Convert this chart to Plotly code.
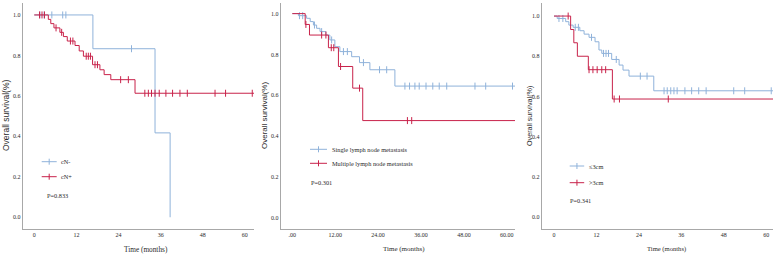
import plotly.graph_objects as go
import bisect

# ---------------- data ----------------
x_ticks = [0, 12, 24, 36, 48, 60]
x_ticklabels_a = ["0", "12", "24", "36", "48", "60"]
x_ticklabels_b = [".00", "12.00", "24.00", "36.00", "48.00", "60.00"]
y_ticks = [0.0, 0.2, 0.4, 0.6, 0.8, 1.0]
y_ticklabels = ["0.0", "0.2", "0.4", "0.6", "0.8", "1.0"]

# Panel 1: cN- / cN+
p1_neg_t = [0, 16.7, 34.4, 38.7]
p1_neg_s = [1.0, 0.833, 0.417, 0.0]
p1_neg_cens = [1.6, 2.8, 5.0, 8.1, 9.0, 27.7]
p1_pos_t = [0, 4.0, 4.7, 5.6, 7.3, 8.3, 9.4, 11.6, 12.8, 14.0, 16.6, 18.7, 19.9, 21.8, 28.7]
p1_pos_s = [1.0, 0.978, 0.957, 0.936, 0.914, 0.893, 0.871, 0.849, 0.822, 0.796, 0.754, 0.729, 0.705, 0.680, 0.613]
p1_pos_cens = [1.5, 2.2, 2.9, 6.2, 7.8, 10.3, 11.0, 14.8, 15.4, 16.0, 17.3, 18.0, 24.6, 26.8,
               31.5, 32.5, 33.4, 34.4, 35.6, 37.5, 39.4, 41.5, 43.6, 51.5, 54.5, 62.1]
p1_pos_end = 62.6

# Panel 2: single / multiple lymph node metastasis
p2_single_t = [0, 1.7, 4.0, 5.0, 5.9, 6.8, 7.75, 9.4, 10.5, 11.9, 13.3, 16.6, 18.8, 21.7, 28.7]
p2_single_s = [1.0, 0.99, 0.977, 0.961, 0.944, 0.928, 0.912, 0.895, 0.871, 0.838, 0.814, 0.789, 0.760, 0.725, 0.645]
p2_single_cens = [2.0, 2.9, 6.2, 8.2, 11.0, 14.3, 15.4, 19.9, 24.4, 26.4,
                  31.5, 32.8, 34.3, 35.5, 37.4, 39.3, 41.1, 43.2, 51.1, 54.1, 61.6]
p2_single_end = 62.3
p2_multi_t = [0, 3.6, 4.8, 10.1, 12.9, 16.9, 19.7]
p2_multi_s = [1.0, 0.947, 0.895, 0.833, 0.741, 0.635, 0.476]
p2_multi_cens = [3.8, 8.2, 9.4, 10.9, 11.6, 13.5, 18.8, 32.2, 33.4]
p2_multi_end = 62.3

# Panel 3: <=3cm / >3cm
p3_small_t = [0, 0.9, 3.3, 4.2, 5.4, 7.3, 8.5, 9.9, 11.6, 12.7, 13.5, 16.3, 18.4, 19.5, 21.2, 28.2]
p3_small_s = [1.0, 0.988, 0.972, 0.955, 0.944, 0.927, 0.910, 0.894, 0.872, 0.831, 0.814, 0.784, 0.756, 0.731, 0.701, 0.628]
p3_small_cens = [1.4, 2.5, 6.0, 6.9, 10.6, 14.0, 14.7, 15.4, 17.6, 24.4, 26.3,
                 31.1, 32.0, 33.0, 33.9, 34.8, 37.0, 38.9, 40.9, 43.0, 50.8, 53.9, 61.4]
p3_small_end = 61.9
p3_big_t = [0, 4.7, 5.6, 6.6, 9.7, 16.5]
p3_big_s = [1.0, 0.933, 0.867, 0.800, 0.733, 0.587]
p3_big_cens = [4.0, 9.9, 11.0, 12.2, 13.5, 14.6, 17.0, 18.5, 32.3]
p3_big_end = 61.9

p_values = ["P=0.833", "P=0.301", "P=0.341"]
legend_names = [["cN-", "cN+"],
                ["Single lymph node metastasis", "Multiple lymph node metastasis"],
                ["\u22643cm", ">3cm"]]

# ---------------- style ----------------
BLUE = "#8fb2da"
RED = "#c8224a"
AXIS = "#a8a8a8"
TXT = "#2a2a2a"
SERIF = "Liberation Serif"
SANS = "Liberation Sans"
W, H = 779, 258

panels = [
    dict(xdom=(22.7, 254), xr=(-3.30, 62.6), yr=(-0.058, 1.059), labels=x_ticklabels_a,
         curves=[(p1_neg_t, p1_neg_s, p1_neg_cens, None, BLUE),
                 (p1_pos_t, p1_pos_s, p1_pos_cens, p1_pos_end, RED)],
         ytitle_x=6, ytitle_size=8.5, xtitle_x=146, xtitle_size=7.3,
         leg_x=41.7, leg_y=(161.7, 176.7), leg_len=15, p_xy=(45, 195)),
    dict(xdom=(280.7, 515), xr=(-3.25, 62.3), yr=(-0.055, 1.052), labels=x_ticklabels_b,
         curves=[(p2_single_t, p2_single_s, p2_single_cens, p2_single_end, BLUE),
                 (p2_multi_t, p2_multi_s, p2_multi_cens, p2_multi_end, RED)],
         ytitle_x=264, ytitle_size=8, xtitle_x=404, xtitle_size=7,
         leg_x=310, leg_y=(149.3, 163.3), leg_len=17, p_xy=(309.3, 182)),
    dict(xdom=(541.7, 773), xr=(-3.48, 61.9), yr=(-0.06, 1.065), labels=x_ticklabels_a,
         curves=[(p3_small_t, p3_small_s, p3_small_cens, p3_small_end, BLUE),
                 (p3_big_t, p3_big_s, p3_big_cens, p3_big_end, RED)],
         ytitle_x=529, ytitle_size=7.2, xtitle_x=666, xtitle_size=6.6,
         leg_x=569.7, leg_y=(166, 182.7), leg_len=14.5, p_xy=(568.3, 200)),
]


def surv_at(times, surv, t):
    i = bisect.bisect_right(times, t) - 1
    return surv[max(i, 0)]


fig = go.Figure()
layout = dict(width=W, height=H, margin=dict(l=0, r=0, t=0, b=0),
              paper_bgcolor="white", plot_bgcolor="white", showlegend=False)
annotations = []
shapes = []

for k, p in enumerate(panels):
    n = "" if k == 0 else str(k + 1)
    xa, ya = "x" + n, "y" + n
    for (t, s, cens, end, col) in p["curves"]:
        xs = list(t) + ([end] if end is not None else [])
        ys = list(s) + ([s[-1]] if end is not None else [])
        fig.add_trace(go.Scatter(x=xs, y=ys, mode="lines", line=dict(color=col, width=1, shape="hv"),
                                 xaxis=xa, yaxis=ya, hoverinfo="skip"))
        fig.add_trace(go.Scatter(x=cens, y=[surv_at(t, s, c) for c in cens], mode="markers",
                                 marker=dict(symbol="line-ns-open", size=5, color=col,
                                             line=dict(color=col, width=1)),
                                 xaxis=xa, yaxis=ya, hoverinfo="skip"))
    x0, x1 = p["xdom"]
    layout["xaxis" + n] = dict(domain=[x0 / W, x1 / W], range=list(p["xr"]), anchor=ya,
                               tickvals=x_ticks, ticktext=p["labels"], showgrid=False, zeroline=False,
                               showline=True, linecolor=AXIS, linewidth=1, ticks="",
                               tickfont=dict(family=SERIF, size=6, color=TXT))
    layout["yaxis" + n] = dict(domain=[1 - 229 / H, 1 - 3 / H], range=list(p["yr"]), anchor=xa,
                               tickvals=y_ticks, ticktext=y_ticklabels, showgrid=False, zeroline=False,
                               showline=True, linecolor=AXIS, linewidth=1, ticks="",
                               tickfont=dict(family=SERIF, size=6, color=TXT))
    # axis titles
    annotations.append(dict(text="Overall survival(%)", x=p["ytitle_x"] / W, y=1 - 116 / H,
                            xref="paper", yref="paper", textangle=-90, showarrow=False,
                            font=dict(family=SANS, size=p["ytitle_size"], color=TXT),
                            xanchor="center", yanchor="middle"))
    annotations.append(dict(text="Time (months)", x=p["xtitle_x"] / W, y=1 - 249 / H,
                            xref="paper", yref="paper", showarrow=False,
                            font=dict(family=SERIF, size=p["xtitle_size"], color=TXT),
                            xanchor="center", yanchor="middle"))
    # legend
    for j, col in enumerate([BLUE, RED]):
        ly = 1 - p["leg_y"][j] / H
        lx0 = p["leg_x"] / W
        lx1 = (p["leg_x"] + p["leg_len"]) / W
        lxm = (p["leg_x"] + p["leg_len"] / 2) / W
        shapes.append(dict(type="line", xref="paper", yref="paper", x0=lx0, x1=lx1, y0=ly, y1=ly,
                           line=dict(color=col, width=1)))
        shapes.append(dict(type="line", xref="paper", yref="paper", x0=lxm, x1=lxm,
                           y0=ly - 3 / H, y1=ly + 3 / H, line=dict(color=col, width=1)))
        annotations.append(dict(text=legend_names[k][j], x=(p["leg_x"] + p["leg_len"] + 2.5) / W, y=ly,
                                xref="paper", yref="paper", showarrow=False, xanchor="left",
                                yanchor="middle", font=dict(family=SERIF, size=6.3, color=TXT)))
    annotations.append(dict(text=p_values[k], x=p["p_xy"][0] / W, y=1 - p["p_xy"][1] / H,
                            xref="paper", yref="paper", showarrow=False, xanchor="left",
                            yanchor="middle", font=dict(family=SERIF, size=6.3, color=TXT)))

layout["annotations"] = annotations
layout["shapes"] = shapes
fig.update_layout(**layout)
fig.write_html("out.html", config={"displayModeBar": False},
               post_script="document.body.style.margin='0px';document.body.style.overflow='hidden';")
